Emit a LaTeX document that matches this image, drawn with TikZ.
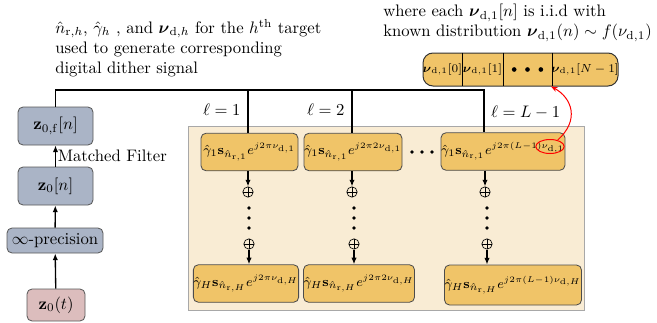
\documentclass[tikz,border=0pt]{standalone}
\usepackage{amsmath}
\usetikzlibrary{arrows.meta,shapes.geometric}
\definecolor{greyblue}{HTML}{AAB4C6}
\definecolor{rosebox}{HTML}{DCBDBD}
\definecolor{ochre}{HTML}{F0C468}
\definecolor{cream}{HTML}{F9ECD4}
\definecolor{panelline}{HTML}{A8A8A8}
% compact exponent for the dither terms
\newcommand{\dexp}[1]{e^{\scriptscriptstyle #1}}
\begin{document}
\begin{tikzpicture}[x=0.6pt,y=-0.6pt,
  stage/.style={draw=black!65,fill=greyblue,rounded corners=3pt,inner sep=0pt,line width=0.5pt},
  srcbox/.style={draw=black!65,fill=rosebox,rounded corners=3pt,inner sep=0pt,line width=0.5pt},
  ditherbox/.style={draw=black!70,fill=ochre,rounded corners=3pt,inner sep=0pt,line width=0.5pt,
    minimum height=22.5pt,font=\fontsize{8.4}{10}\selectfont},
  bus/.style={line width=0.9pt},
  feed/.style={line width=0.8pt,-{Latex[length=4pt,width=3.2pt]}},
  summer/.style={circle,draw,line width=0.4pt,minimum size=6.2pt,inner sep=0pt,
    path picture={\draw[line width=0.3pt] (path picture bounding box.north) -- (path picture bounding box.south)
      (path picture bounding box.west) -- (path picture bounding box.east);}},
  vdot/.style={circle,fill=black,inner sep=0pt,minimum size=2.2pt},
  cell/.style={inner sep=0pt,minimum height=19.8pt,font=\fontsize{7.4}{9}\selectfont}]
\useasboundingbox (0,0) rectangle (657,322);

% background panel for the dither branches
\node[draw=panelline,fill=cream,minimum width=237.6pt,minimum height=110.4pt,inner sep=0pt,line width=0.5pt]
  (panel) at (386,218) {};

% receive chain
\node[srcbox,minimum width=34.8pt,minimum height=19.2pt] (z0t) at (56,305) {$\mathbf{z}_0(t)$};
\node[stage,minimum width=57.6pt,minimum height=15pt] (inf) at (55,240.5) {$\infty$-precision};
\node[stage,minimum width=45pt,minimum height=22.8pt] (z0n) at (55.5,186) {$\mathbf{z}_0[n]$};
\node[stage,minimum width=45pt,minimum height=22.8pt] (zf) at (55.5,126) {$\mathbf{z}_{0,\mathrm{f}}[n]$};
\draw[feed] (z0t) -- (inf);
\draw[feed] (inf) -- (z0n);
\draw[feed] (z0n) -- node[right,inner sep=1pt] {Matched Filter} (zf);

% annotations
\node[anchor=north west,align=left,inner sep=0pt] (note) at (55,19)
  {$\hat{n}_{\mathrm{r},h}$, $\hat{\gamma}_h$ , and $\boldsymbol{\nu}_{\mathrm{d},h}$ for the $h^{\mathrm{th}}$ target\\
   used to generate corresponding\\ digital dither signal};
\node[anchor=north west,align=left,inner sep=0pt] (iid) at (383,4)
  {where each $\boldsymbol{\nu}_{\mathrm{d},1}[n]$ is i.i.d with\\
   known distribution $\boldsymbol{\nu}_{\mathrm{d},1}(n)\sim f(\nu_{\mathrm{d},1})$};

% dither sequence
\node[draw=black!80,fill=ochre,rounded corners=6pt,minimum width=117pt,minimum height=19.8pt,inner sep=0pt,line width=0.6pt]
  (seq) at (520.5,69.5) {};
\node[cell,minimum width=23.4pt] (c0) at (442.5,69.5) {$\boldsymbol{\nu}_{\mathrm{d},1}[0]$};
\node[cell,minimum width=24.6pt] (c1) at (482.5,69.5) {$\boldsymbol{\nu}_{\mathrm{d},1}[1]$};
\node[cell,minimum width=29.4pt] (c2) at (527.5,69.5) {};
\node[cell,minimum width=39.6pt] (c3) at (585,69.5) {$\boldsymbol{\nu}_{\mathrm{d},1}[N-1]$};
\foreach \k in {-1,0,1} \node[vdot,minimum size=2.8pt] (sd\k) at ([xshift=\k*8pt]c2) {};
\draw[line width=0.6pt] (c0.north east) -- (c0.south east)
  (c1.north east) -- (c1.south east) (c2.north east) -- (c2.south east);

% branch bus
\coordinate (t1) at (248,90);
\coordinate (t2) at (352,90);
\coordinate (t3) at (484,90);

% first-target boxes
\node[ditherbox,minimum width=58.2pt] (b11) at (249.5,152) {$\hat{\gamma}_1\mathbf{s}_{\hat{n}_{\mathrm{r},1}}\dexp{j2\pi\nu_{\mathrm{d},1}}$};
\node[ditherbox,minimum width=58.8pt] (b12) at (353,152) {$\hat{\gamma}_1\mathbf{s}_{\hat{n}_{\mathrm{r},1}}\dexp{j2\pi2\nu_{\mathrm{d},1}}$};
\node[ditherbox,minimum width=73.2pt] (b13) at (503,151.5) {$\hat{\gamma}_1\mathbf{s}_{\hat{n}_{\mathrm{r},1}}\dexp{j2\pi(L-1)\nu_{\mathrm{d},1}}$};

% last-target boxes
\node[ditherbox,minimum width=61.2pt] (bH1) at (246,283.5) {$\hat{\gamma}_H\mathbf{s}_{\hat{n}_{\mathrm{r},H}}\dexp{j2\pi\nu_{\mathrm{d},H}}$};
\node[ditherbox,minimum width=61.2pt] (bH2) at (359,283.5) {$\hat{\gamma}_H\mathbf{s}_{\hat{n}_{\mathrm{r},H}}\dexp{j2\pi2\nu_{\mathrm{d},H}}$};
\node[ditherbox,minimum width=76.8pt,minimum height=24pt] (bH3) at (513,285) {$\hat{\gamma}_H\mathbf{s}_{\hat{n}_{\mathrm{r},H}}\dexp{j2\pi(L-1)\nu_{\mathrm{d},H}}$};

\draw[bus] (zf.north) |- (t3) -- (t3 |- b13.north);
\draw[bus] (t1) -- node[left,pos=0.45,inner sep=4pt] {$\ell=1$} (t1 |- b11.north);
\draw[bus] (t2) -- node[left,pos=0.45,inner sep=4pt] {$\ell=2$} (t2 |- b12.north);
\node[right,inner sep=4pt] (lbl3) at (484,112) {$\ell=L-1$};

% summing columns
\foreach \c/\x/\xb [count=\i] in {1/248/249,2/352/354,3/485/487}{
  \node[summer] (s\i a) at (\x,192) {};
  \node[summer] (s\i b) at (\xb,244) {};
  \node[vdot] (d\i a) at (\xb,208) {};
  \node[vdot] (d\i b) at (\xb,218) {};
  \node[vdot] (d\i c) at (\xb,228) {};
}
\draw[feed] (b11.south -| s1a) -- (s1a);
\draw[feed] (b12.south -| s2a) -- (s2a);
\draw[feed] (b13.south -| s3a) -- (s3a);
\draw[feed] (s1b) -- (s1b |- bH1.north);
\draw[feed] (s2b) -- (s2b |- bH2.north);
\draw[feed] (s3b) -- (s3b |- bH3.north);

% horizontal ellipsis between branches
\node[vdot] (h1) at (412,152) {};
\node[vdot] (h2) at (422,152) {};
\node[vdot] (h3) at (432,152) {};

% highlight of the dither term and its link to the sequence
\node[ellipse,draw=red,line width=0.6pt,minimum width=17pt,minimum height=8.4pt,inner sep=0pt] (ring) at (550,146.5) {};
\draw[red,line width=0.6pt,-{Stealth[length=4pt,width=3pt]}] (ring.40) .. controls (580,120) and (572,98) .. (c3.south west);
\end{tikzpicture}
\end{document}
